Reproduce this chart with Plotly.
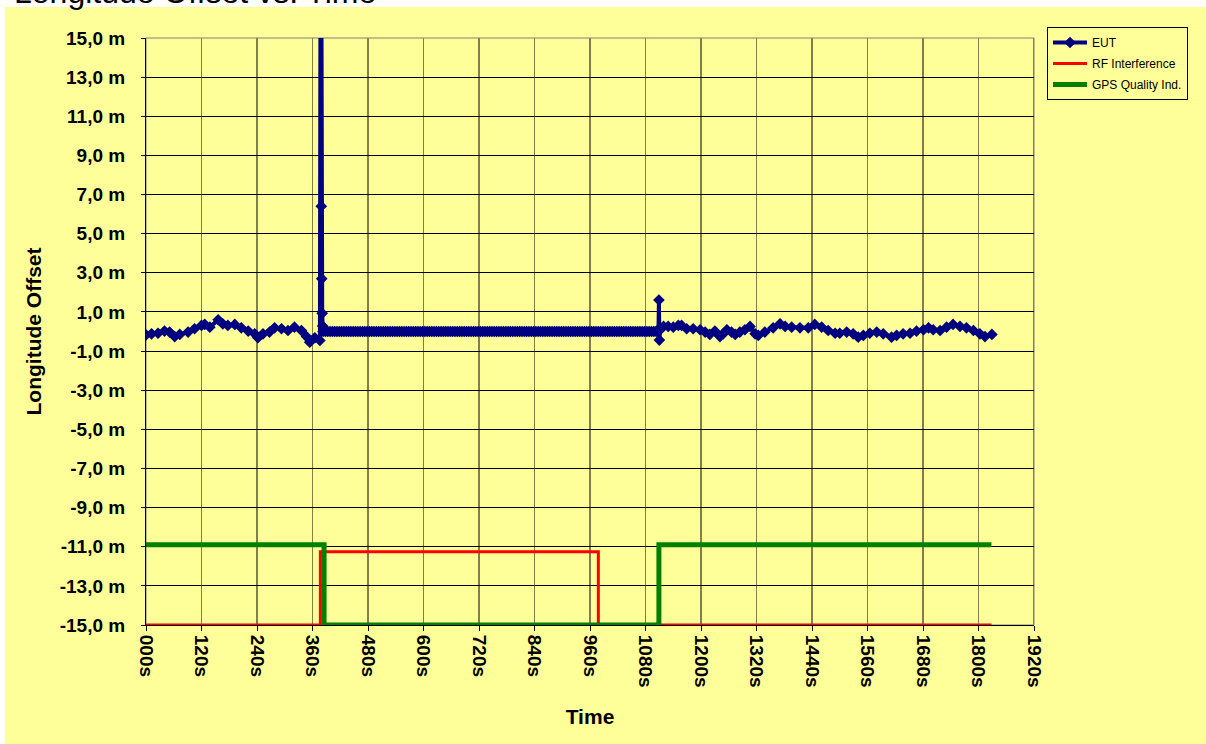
import plotly.graph_objects as go

# ---------------- data ----------------
# EUT longitude offset (m) vs time (s)
eut_t_1 = [0, 12, 26, 40, 51, 62, 73, 91, 105, 120, 127, 138, 156, 166, 177, 192,
           206, 221, 235, 242, 253, 267, 278, 293, 307, 321, 336, 347, 354, 365, 376,
           378, 379, 380, 381, 382]
eut_v_1 = [-0.17, -0.12, -0.09, 0.02, -0.03, -0.26, -0.15, -0.03, 0.14, 0.31, 0.36,
           0.22, 0.6, 0.39, 0.31, 0.36, 0.19, 0.02, -0.12, -0.32, -0.12, -0.03, 0.19,
           0.14, 0.05, 0.22, 0.05, -0.26, -0.55, -0.32, -0.46,
           30.0, 6.4, 2.7, 0.93, 0.28]
eut_t_flat = list(range(383, 1109, 5))
eut_v_flat = [0.0] * len(eut_t_flat)
eut_t_2 = [1109, 1110, 1112, 1119, 1129, 1140, 1151, 1158, 1169, 1183, 1198, 1209,
           1219, 1230, 1241, 1248, 1256, 1266, 1274, 1284, 1295, 1306, 1317, 1324,
           1338, 1356, 1371, 1382, 1396, 1414, 1432, 1446, 1461, 1475, 1490, 1500,
           1515, 1529, 1540, 1551, 1565, 1580, 1594, 1612, 1623, 1637, 1652, 1666,
           1681, 1692, 1702, 1717, 1731, 1745, 1760, 1774, 1789, 1803, 1814, 1829]
eut_v_2 = [1.61, -0.44, 0.2, 0.26, 0.26, 0.22, 0.31, 0.31, 0.14, 0.14, 0.09, -0.03,
           -0.15, 0.02, -0.26, -0.12, 0.09, -0.03, -0.15, -0.03, 0.09, 0.26, -0.12, -0.2,
           -0.03, 0.19, 0.39, 0.26, 0.22, 0.19, 0.19, 0.36, 0.22, 0.05, -0.09, -0.09,
           -0.03, -0.12, -0.29, -0.2, -0.09, -0.03, -0.12, -0.29, -0.2, -0.12, -0.09, 0.02,
           0.09, 0.19, 0.09, 0.05, 0.22, 0.36, 0.26, 0.19, 0.05, -0.12, -0.26, -0.15]

eut_t = eut_t_1 + eut_t_flat + eut_t_2
eut_v = eut_v_1 + eut_v_flat + eut_v_2

# RF interference indicator (step)
rf_t = [0, 377, 978, 1828]
rf_v = [-15.0, -11.25, -15.0, -15.0]

# GPS quality indicator (step)
gps_t = [0, 385, 1109, 1828]
gps_v = [-10.9, -15.0, -10.9, -10.9]

# axis ticks
x_tick_vals = list(range(0, 1921, 120))
x_tick_text = ["000s"] + [f"{v}s" for v in x_tick_vals[1:]]
y_tick_vals = list(range(-15, 16, 2))
y_tick_text = [f"{v},0 m" for v in y_tick_vals]

# ---------------- figure ----------------
W, H = 1206, 744
L, R, T, B = 146, 172, 38, 119
pw, ph = W - L - R, H - T - B


def px_x(p):
    return (p - L) / pw


def px_y(p):
    return (H - B - p) / ph


YELLOW = "#FFFF99"
OLIVE = "#808040"
FONT = "Arial, Liberation Sans, sans-serif"

fig = go.Figure()
fig.add_trace(go.Scatter(
    x=eut_t, y=eut_v, name="EUT", mode="lines+markers",
    line=dict(color="#000080", width=4),
    marker=dict(symbol="diamond", size=9, color="#000080"),
    legendgroup="a",
))
fig.add_trace(go.Scatter(
    x=rf_t, y=rf_v, name="RF Interference", mode="lines",
    line=dict(color="#FF0000", width=3, shape="hv"),
    legendgroup="b",
))
fig.add_trace(go.Scatter(
    x=gps_t, y=gps_v, name="GPS Quality Ind.", mode="lines",
    line=dict(color="#008000", width=5, shape="hv"),
    legendgroup="c",
))

shapes = [
    dict(type="rect", xref="paper", yref="paper",
         x0=px_x(5), x1=px_x(1210), y0=px_y(748), y1=px_y(7),
         fillcolor=YELLOW, line=dict(width=0), layer="below"),
]
# vertical gridlines (alternating dark / olive as in the original rendering)
for i, v in enumerate(x_tick_vals[1:], start=1):
    shapes.append(dict(type="line", xref="x", yref="paper", x0=v, x1=v, y0=0, y1=1,
                       line=dict(color="black" if i % 2 == 0 else OLIVE, width=1),
                       layer="between"))
shapes.append(dict(type="rect", xref="paper", yref="paper", x0=0, x1=1, y0=0, y1=1,
                   line=dict(color="#808080", width=1), layer="between"))

fig.update_layout(
    width=W, height=H,
    margin=dict(l=L, r=R, t=T, b=B, pad=0),
    paper_bgcolor="white",
    plot_bgcolor=YELLOW,
    font=dict(family=FONT, color="black"),
    showlegend=True,
    legend=dict(
        x=px_x(1047), y=px_y(27), xanchor="left", yanchor="top",
        bgcolor=YELLOW, bordercolor="black", borderwidth=1,
        font=dict(size=12, family=FONT, color="black"),
        itemwidth=34, tracegroupgap=2,
    ),
    shapes=shapes,
    annotations=[
        dict(text="Longitude Offset vs. Time", xref="paper", yref="paper",
             x=px_x(12), y=px_y(11.5), xanchor="left", yanchor="bottom",
             showarrow=False, font=dict(size=32, family=FONT, color="black")),
    ],
)

fig.update_xaxes(
    range=[0, 1920], tickvals=x_tick_vals, ticktext=x_tick_text,
    tickangle=90, tickfont=dict(size=19, family=FONT, color="black", weight="bold"),
    showgrid=False,
    showline=True, linecolor="black", linewidth=1,
    ticks="outside", ticklen=5, tickcolor="black",
    zeroline=False,
    title=dict(text="Time", font=dict(size=21, family=FONT, color="black", weight="bold"),
               standoff=22),
)
fig.update_yaxes(
    range=[-15, 15], tickvals=y_tick_vals, ticktext=y_tick_text,
    tickfont=dict(size=19, family=FONT, color="black", weight="bold"),
    showgrid=True, gridcolor="black", gridwidth=1,
    showline=True, linecolor="black", linewidth=1,
    ticks="outside", ticklen=4, tickcolor="black",
    ticklabelstandoff=12,
    zeroline=False,
    title=dict(text="Longitude Offset", font=dict(size=21, family=FONT, color="black", weight="bold"),
               standoff=12),
)

fig.write_html(
    "out.html",
    config={"displayModeBar": False},
    post_script="document.body.style.margin='0';document.body.style.overflow='hidden';",
)
